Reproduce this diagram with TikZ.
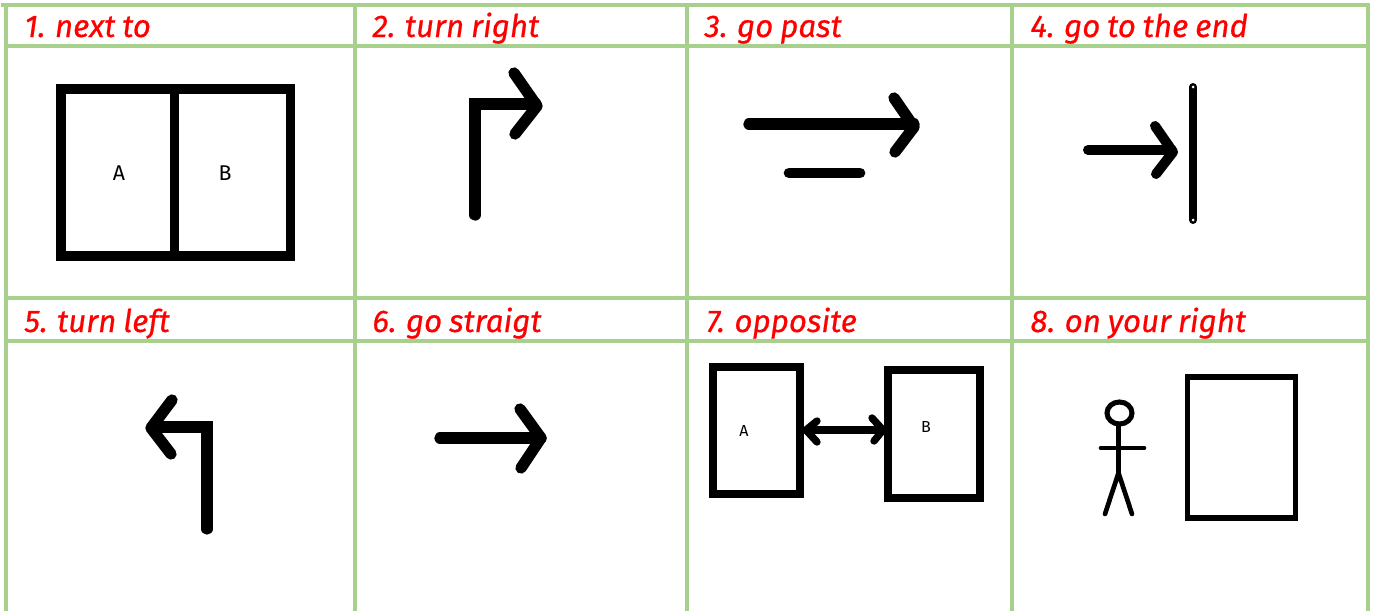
\documentclass[tikz,border=0pt]{standalone}
\usepackage{fontspec}
\setmainfont{Fira Sans}
\newfontfamily\titlefont[FakeBold=0.5,WordSpace=0.85]{Fira Sans}
\definecolor{gridgreen}{HTML}{A8D08D}
\tikzset{
	every picture/.style={line width=0.75pt},
	gridline/.style={draw=gridgreen,line width=3pt},
	title/.style={anchor=base west,inner sep=0pt,text=red,font=\fontsize{23.5}{27}\titlefont\itshape},
	room/.style={anchor=center,inner sep=0pt,font=\fontsize{16}{19}\selectfont},
	smallroom/.style={anchor=center,inner sep=0pt,font=\fontsize{12}{14}\selectfont},
	stroke/.style={line width=#1,line cap=round,line join=round},
	corner/.style={line width=#1,line cap=round,line join=miter},
	square/.style={line width=#1,line cap=butt,line join=miter}
}
\begin{document}
\begin{tikzpicture}[x=0.75pt,y=0.75pt,yscale=-1,xscale=1]
	\useasboundingbox (0,0) rectangle (1375,611);

	%Table Lines
	\draw [gridline] (1,4.5) -- (1369,4.5);
	\draw [gridline] (6,45.5) -- (1369,45.5);
	\draw [gridline] (6,297.5) -- (1369,297.5);
	\draw [gridline] (6,341) -- (1369,341);
	\draw [gridline] (6,3) -- (6,611);
	\draw [gridline] (354.5,3) -- (354.5,611);
	\draw [gridline] (687,3) -- (687,611);
	\draw [gridline] (1012,3) -- (1012,611);
	\draw [gridline] (1367.5,3) -- (1367.5,611);

	% Text Node
	\node [title] (titleNext) at (24,37) {1. next to};
	\node [title] (titleRight) at (372,37) {2. turn right};
	\node [title] (titlePast) at (704,37) {3. go past};
	\node [title] (titleEnd) at (1030,37) {4. go to the end};
	\node [title] (titleLeft) at (24,332) {5. turn left};
	\node [title] (titleStraight) at (372,332) {6. go straigt};
	\node [title] (titleOpposite) at (706,332) {7. opposite};
	\node [title] (titleOnRight) at (1030,332) {8. on your right};

	%Shape: next to
	\draw [square=7pt] (61,89) rectangle (290.5,256);
	\draw [square=7pt] (174.5,89) -- (174.5,256);
	\node [room] (roomA) at (119,173.5) {A};
	\node [room] (roomB) at (225,173.5) {B};

	%Straight Lines: turn right
	\draw [corner=8.5pt] (475,215) -- (475,104) -- (536,104);
	\draw [stroke=8.5pt] (514,73) -- (537,106) -- (515,134);

	%Straight Lines: go past
	\draw [stroke=8.5pt] (749,124) -- (914,124);
	\draw [stroke=8.5pt] (894,98) -- (914,127) -- (895,152);
	\draw [stroke=8pt] (789,173) -- (860,173);

	%Straight Lines: go to the end
	\draw [stroke=7.5pt] (1088,150) -- (1172,150);
	\draw [stroke=7.5pt] (1155,126) -- (1173,152) -- (1156,174);
	\draw [stroke=6pt] (1193,87) -- (1193,220);
	\fill [white] (1193,87) circle [radius=1.5];
	\fill [white] (1193,220) circle [radius=1.5];

	%Straight Lines: turn left
	\draw [corner=8.5pt] (207,529) -- (207,427) -- (152,427);
	\draw [stroke=8.5pt] (172,400) -- (151,428) -- (171,454);

	%Straight Lines: go straight
	\draw [stroke=8.5pt] (440,438) -- (541,438);
	\draw [stroke=8.5pt] (520,409) -- (541,438) -- (521,468);

	%Shape: opposite
	\draw [square=6pt] (713,367) rectangle (800,493.5);
	\draw [square=6pt] (887.5,369.5) rectangle (979.5,498);
	\node [smallroom] (roomC) at (744,431) {A};
	\node [smallroom] (roomD) at (926,427) {B};
	\draw [stroke=5.5pt] (809,430) -- (880,430);
	\draw [stroke=5.5pt] (817,421) -- (806,430) -- (817,442);
	\draw [stroke=5.5pt] (872,418) -- (883,430) -- (874,441);

	%Shape: on your right
	\draw [line width=3.8pt] (1119.5,413) ellipse [x radius=12.5,y radius=11];
	\draw [stroke=3.5pt] (1118.5,426) -- (1118.5,473);
	\draw [stroke=3.5pt] (1101,448) -- (1144,448);
	\draw [stroke=3.5pt] (1105,514) -- (1118.5,473) -- (1132,514);
	\draw [square=4pt] (1187.5,377) rectangle (1295.5,518);
\end{tikzpicture}
\end{document}
